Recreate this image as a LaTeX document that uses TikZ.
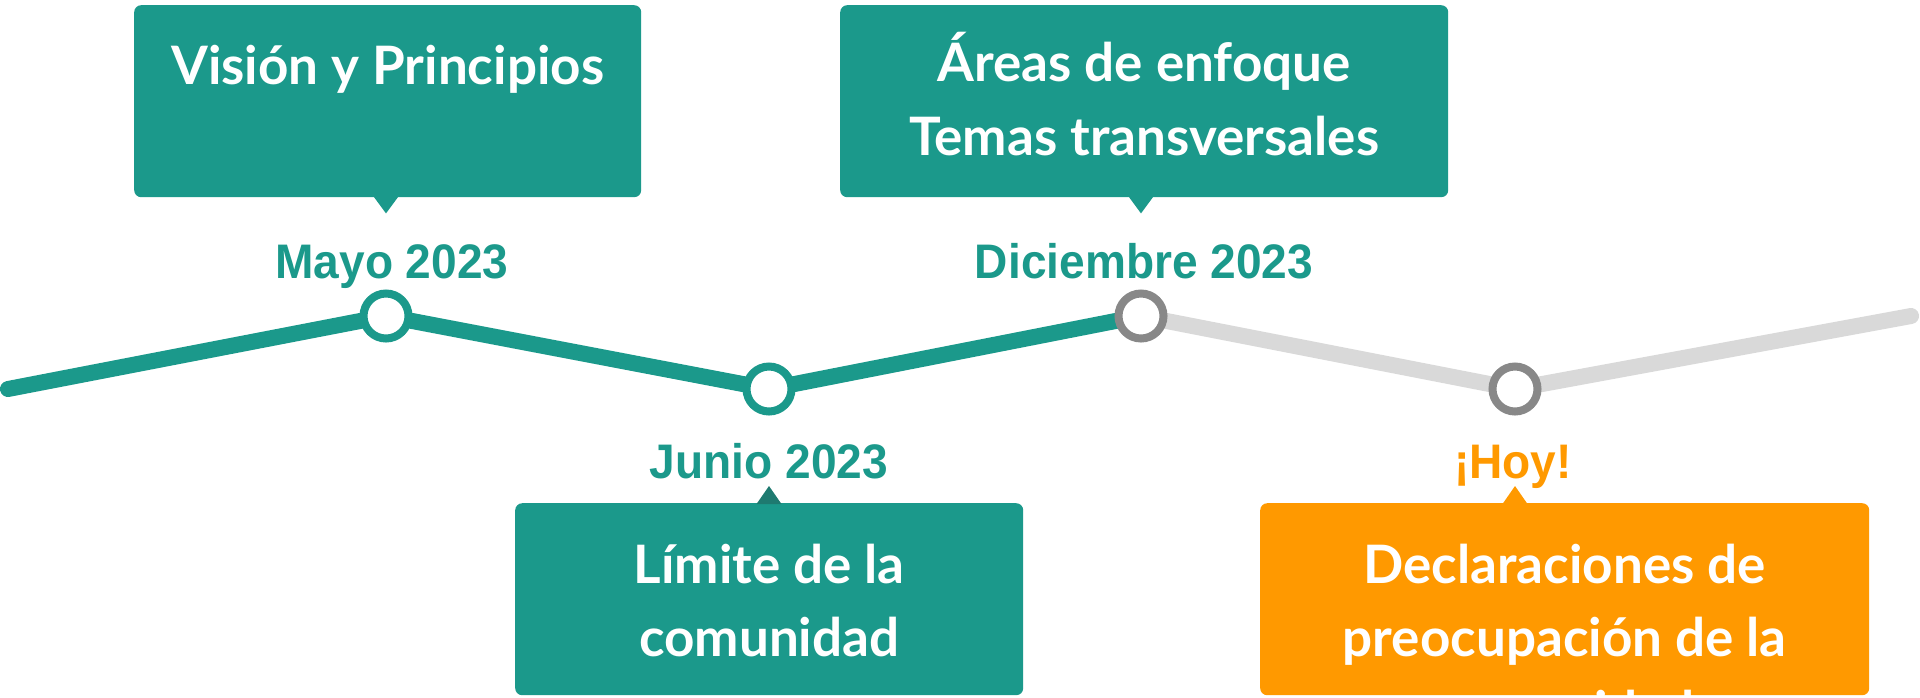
\documentclass[tikz,border=0pt]{standalone}
\usepackage{fontspec}
\setmainfont{Lato}
\newfontfamily\datefont[FakeStretch=0.95]{Liberation Sans}
\usetikzlibrary{calc,backgrounds}
\definecolor{teal1}{HTML}{1B998B}
\definecolor{tealdark}{HTML}{1E7A70}
\definecolor{orange1}{HTML}{FF9900}
\definecolor{linegray}{HTML}{D9D9D9}
\definecolor{ringgray}{HTML}{888888}
\tikzset{
  tl/.style={line width=16pt, line cap=round, line join=round},
  dot/.style={circle, minimum size=45pt, inner sep=0pt, line width=8pt, fill=white},
  callout/.style={rounded corners=7pt, minimum height=192pt, inner sep=0pt, anchor=north west},
  boxtext/.style={text=white, inner sep=0pt, anchor=base, font=\fontsize{53}{74}\selectfont\bfseries},
  datelbl/.style={inner sep=0pt, anchor=base, font=\fontsize{48.5}{58}\selectfont\datefont\bfseries}
}
\begin{document}
\begin{tikzpicture}[x=1pt,y=-1pt]
\useasboundingbox (0,0) rectangle (1920,697);
% timeline points
\coordinate (s) at (8,389);
\coordinate (e) at (1911,316);
\node[dot, draw=teal1] (c1) at (386,316) {};
\node[dot, draw=teal1] (c2) at (769,389) {};
\node[dot, draw=ringgray] (c3) at (1141,316) {};
\node[dot, draw=ringgray] (c4) at (1515,389) {};
\begin{scope}[on background layer]
  \draw[tl, teal1] (s) -- (c1.center) -- (c2.center) -- (c3.center);
  \draw[tl, linegray] (c3.center) -- (c4.center) -- (e);
\end{scope}
% boxes
\node[callout, fill=teal1, minimum width=507pt] (b1) at (134,5) {};
\node[callout, fill=teal1, minimum width=608pt] (b2) at (840,5) {};
\node[callout, fill=teal1, minimum width=508pt] (b3) at (515,503) {};
\node[callout, fill=orange1, minimum width=609pt] (b4) at (1260,503) {};
% pointers
\fill[teal1] ($(c1 |- b1.south)+(-12.5,-1)$) -- ($(c1 |- b1.south)+(0,16)$) -- ($(c1 |- b1.south)+(12.5,-1)$) -- cycle;
\fill[teal1] ($(c3 |- b2.south)+(-12.5,-1)$) -- ($(c3 |- b2.south)+(0,16)$) -- ($(c3 |- b2.south)+(12.5,-1)$) -- cycle;
\fill[tealdark] ($(c2 |- b3.north)+(-12.5,1)$) -- ($(c2 |- b3.north)+(0,-17)$) -- ($(c2 |- b3.north)+(12.5,1)$) -- cycle;
\fill[orange1] ($(c4 |- b4.north)+(-12.5,1)$) -- ($(c4 |- b4.north)+(0,-17)$) -- ($(c4 |- b4.north)+(12.5,1)$) -- cycle;
% box texts
\node[boxtext] (t1) at ($(b1.north)+(0,79)$) {Visión y Principios};
\node[boxtext] (t2a) at ($(b2.north)+(0,76)$) {Áreas de enfoque};
\node[boxtext] (t2b) at ($(b2.north)+(0,150)$) {Temas transversales};
\node[boxtext] (t3a) at ($(b3.north)+(0,80)$) {Límite de la};
\node[boxtext] (t3b) at ($(b3.north)+(0,153)$) {comunidad};
\begin{scope}
  \clip[rounded corners=7pt] (b4.north west) rectangle (b4.south east);
  \node[boxtext] (t4a) at ($(b4.north)+(0,80)$) {Declaraciones de};
  \node[boxtext] (t4b) at ($(b4.north)+(0,153)$) {preocupación de la};
  \node[boxtext] (t4c) at ($(b4.north)+(0,226)$) {comunidad};
\end{scope}
% date labels
\node[datelbl, text=teal1] (d1) at ($(c1)+(6,-38)$) {Mayo 2023};
\node[datelbl, text=teal1] (d2) at ($(c2)+(0,89)$) {Junio 2023};
\node[datelbl, text=teal1] (d3) at ($(c3)+(3,-38)$) {Diciembre 2023};
\node[datelbl, text=orange1] (d4) at ($(c4)+(-2,89)$) {¡Hoy!};
\end{tikzpicture}
\end{document}
